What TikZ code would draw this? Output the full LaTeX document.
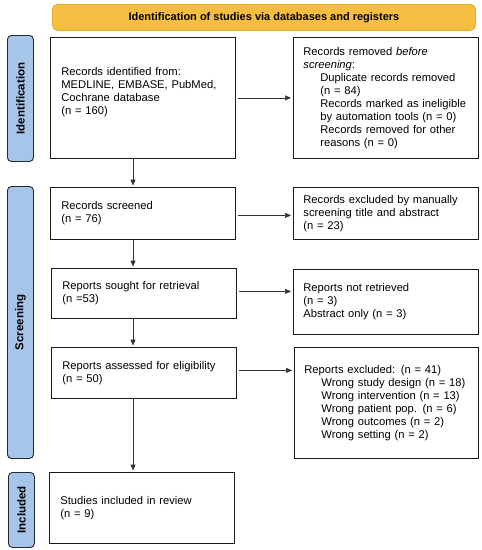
\documentclass[tikz,border=0pt]{standalone}
\usepackage{fontspec}
\setmainfont{Liberation Sans}
\usetikzlibrary{arrows.meta}
\definecolor{bannerfill}{HTML}{F6BE41}
\definecolor{bannerdraw}{HTML}{E2AC38}
\definecolor{sidefill}{HTML}{A7C5E8}
\definecolor{sidedraw}{HTML}{1E2A36}
\definecolor{boxdraw}{HTML}{1A1A1A}
\definecolor{arrowcol}{HTML}{333333}
\begin{document}
\begin{tikzpicture}[x=1pt,y=-1pt,
  every node/.style={font=\fontsize{11.2}{13}\selectfont},
  lbox/.style={draw=boxdraw, line width=0.8pt, anchor=north west, align=left,
    inner xsep=11pt, inner ysep=0pt},
  rbox/.style={draw=boxdraw, line width=0.8pt, anchor=north west, align=left,
    inner xsep=10pt, inner ysep=0pt},
  side/.style={draw=sidedraw, fill=sidefill, line width=0.9pt, rounded corners=4pt,
    anchor=north west, inner sep=0pt},
  sidetext/.style={rotate=90, font=\bfseries\fontsize{11.5}{13}\selectfont},
  arr/.style={draw=arrowcol, line width=0.6pt, -{Triangle[length=6pt,width=5pt]}},
]
\useasboundingbox (0,0) rectangle (482,550);

% banner
\node[draw=bannerdraw, fill=bannerfill, line width=0.8pt, rounded corners=5pt,
  anchor=north west, minimum width=423pt, minimum height=26pt, inner sep=0pt,
  font=\bfseries\fontsize{11}{13}\selectfont] (banner) at (52,4)
  {Identification of studies via databases and registers};

% side phases
\node[side, minimum width=26pt, minimum height=126pt] (s1) at (7,35) {};
\node[sidetext] (s1t) at (s1.center) {Identification};
\node[side, minimum width=26pt, minimum height=272pt] (s2) at (7,186) {};
\node[sidetext] (s2t) at (s2.center) {Screening};
\node[side, minimum width=26pt, minimum height=75pt] (s3) at (8,472) {};
\node[sidetext] (s3t) at (s3.center) {Included};

% left boxes
\node[lbox, text width=163pt, minimum height=121pt] (b1) at (50,37)
  {Records identified from:\\MEDLINE, EMBASE, PubMed,\\Cochrane database\\(n = 160)\\\mbox{}};
\node[lbox, text width=163pt, minimum height=52pt] (b2) at (50,187)
  {Records screened\\(n = 76)};
\node[lbox, text width=163pt, minimum height=50pt] (b3) at (51,268)
  {Reports sought for retrieval\\(n =53)};
\node[lbox, text width=163pt, minimum height=51pt] (b4) at (51,347)
  {Reports assessed for eligibility\\(n = 50)};
\node[lbox, text width=163pt, minimum height=71pt] (b5) at (49,472)
  {Studies included in review\\(n = 9)};

% right boxes
\node[rbox, text width=165pt, minimum height=121pt] (r1) at (293,37)
  {Records removed \emph{before}\\\emph{screening}:\\
   \hspace*{17pt}Duplicate records removed\\
   \hspace*{17pt}(n = 84)\\
   \hspace*{17pt}Records marked as ineligible\\
   \hspace*{17pt}by automation tools (n = 0)\\
   \hspace*{17pt}Records removed for other\\
   \hspace*{17pt}reasons (n = 0)};
\node[rbox, text width=165pt, minimum height=52pt] (r2) at (293,187)
  {Records excluded by manually\\screening title and abstract\\(n = 23)};
\node[rbox, text width=165pt, minimum height=65pt] (r3) at (293,269)
  {Reports not retrieved\\(n = 3)\\Abstract only (n = 3)};
\node[rbox, text width=164pt, minimum height=111pt] (r4) at (294,347)
  {Reports excluded: (n = 41)\\
   \hspace*{17pt}Wrong study design (n = 18)\\
   \hspace*{17pt}Wrong intervention (n = 13)\\
   \hspace*{17pt}Wrong patient pop. (n = 6)\\
   \hspace*{17pt}Wrong outcomes (n = 2)\\
   \hspace*{17pt}Wrong setting (n = 2)};

% connectors
\coordinate (ax) at (133,0);
\draw[arr, shorten >=1.5pt] (b1.south -| ax) -- (b2.north -| ax);
\draw[arr, shorten >=1.5pt] (b2.south -| ax) -- (b3.north -| ax);
\draw[arr, shorten >=1.5pt] (b3.south -| ax) -- (b4.north -| ax);
\draw[arr, shorten >=1.5pt] (b4.south -| ax) -- (b5.north -| ax);

\draw[arr, shorten <=2pt, shorten >=2pt] (b1.east) -- (b1.east -| r1.west);
\draw[arr, shorten <=2pt, shorten >=2pt] ([yshift=-2pt]b2.east) -- ([yshift=-2pt]b2.east -| r2.west);
\draw[arr, shorten <=2pt, shorten >=2pt] ([yshift=2pt]b3.east) -- ([yshift=2pt]b3.east -| r3.west);
\draw[arr, shorten <=2pt, shorten >=2pt] ([yshift=2.5pt]b4.east) -- ([yshift=2.5pt]b4.east -| r4.west);
\end{tikzpicture}
\end{document}
